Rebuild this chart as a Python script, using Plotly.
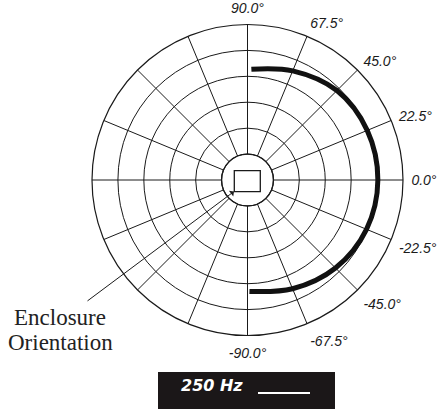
import plotly.graph_objects as go

# Polar response at 250 Hz (dB, relative), read at 22.5 degree steps
angles_deg = [88.0, 67.5, 45.0, 22.5, 0.0, -22.5, -45.0, -67.5, -89.0]
level_db = [-8.6, -7.2, -5.6, -5.0, -4.85, -5.15, -6.0, -7.3, -8.5]

# Angular tick positions and the labels shown on the right half
tick_angles = [i * 22.5 for i in range(16)]
tick_labels = ["0.0°", "22.5°", "45.0°", "67.5°", "90.0°", "", "", "", "",
               "", "", "", "-90.0°", "-67.5°", "-45.0°", "-22.5°"]
ring_levels = [-25, -20, -15, -10, -5, 0]

legend_label = "250 Hz"
callout_lines = ["Enclosure", "Orientation"]

W, H = 444, 409


def px(x):
    return x / W


def py(y):
    return 1 - y / H


fig = go.Figure()

fig.add_trace(go.Scatterpolar(
    r=level_db,
    theta=angles_deg,
    mode="lines",
    line=dict(color="#111111", width=5, shape="spline"),
    showlegend=False,
    hoverinfo="skip",
))

fig.update_layout(
    width=W,
    height=H,
    margin=dict(l=0, r=0, t=0, b=0),
    paper_bgcolor="white",
    plot_bgcolor="white",
    showlegend=False,
    polar=dict(
        domain=dict(x=[px(92), px(403)], y=[py(335.5), py(24.5)]),
        bgcolor="white",
        hole=1 / 6,
        radialaxis=dict(
            range=[-25, 0],
            tickvals=ring_levels,
            showticklabels=False,
            ticks="",
            showline=False,
            gridcolor="#1a1a1a",
            gridwidth=1,
        ),
        angularaxis=dict(
            rotation=0,
            direction="counterclockwise",
            tickvals=tick_angles,
            ticktext=tick_labels,
            ticks="outside",
            ticklen=5,
            tickcolor="rgba(0,0,0,0)",
            tickfont=dict(family="Liberation Sans, Arial", size=14,
                          color="#1a1a1a", style="italic"),
            showline=True,
            linecolor="#1a1a1a",
            linewidth=1.2,
            gridcolor="#1a1a1a",
            gridwidth=1,
        ),
    ),
)

# Inner circle around the enclosure marker
fig.add_shape(type="circle", xref="paper", yref="paper",
              x0=px(247.5 - 26), x1=px(247.5 + 26),
              y0=py(180 + 26), y1=py(180 - 26),
              line=dict(color="#1a1a1a", width=1.2))

# Enclosure marker
fig.add_shape(type="rect", xref="paper", yref="paper",
              x0=px(234.3), x1=px(260.3), y0=py(191.7), y1=py(170.7),
              line=dict(color="#1a1a1a", width=1.3), fillcolor="white")

# Callout text and pointer
serif = dict(family="Liberation Serif, Times New Roman", size=23, color="#222222")
fig.add_annotation(x=px(60), y=py(317), xref="paper", yref="paper",
                   xanchor="center", yanchor="middle",
                   text=callout_lines[0], showarrow=False, font=serif)
fig.add_annotation(x=px(60), y=py(342), xref="paper", yref="paper",
                   xanchor="center", yanchor="middle",
                   text=callout_lines[1], showarrow=False, font=serif)
fig.add_annotation(x=px(234), y=py(191.5), xref="paper", yref="paper",
                   text="", showarrow=True, ax=86 - 234, ay=302 - 191.5,
                   arrowhead=1, arrowsize=1.2, arrowwidth=1, arrowcolor="#1a1a1a",
                   standoff=0, startstandoff=0)

# Frequency key
fig.add_shape(type="rect", xref="paper", yref="paper",
              x0=px(158), x1=px(335), y0=py(409), y1=py(372),
              line=dict(width=0), fillcolor="#1b1718", layer="above")
fig.add_shape(type="line", xref="paper", yref="paper",
              x0=px(258), x1=px(310), y0=py(393), y1=py(393),
              line=dict(color="white", width=2), layer="above")
fig.add_annotation(x=px(212), y=py(385), xref="paper", yref="paper",
                   xanchor="center", yanchor="middle",
                   text="<b><i>" + legend_label + "</i></b>", showarrow=False,
                   font=dict(family="DejaVu Sans", size=16, color="white"))

fig.write_html("out.html")
